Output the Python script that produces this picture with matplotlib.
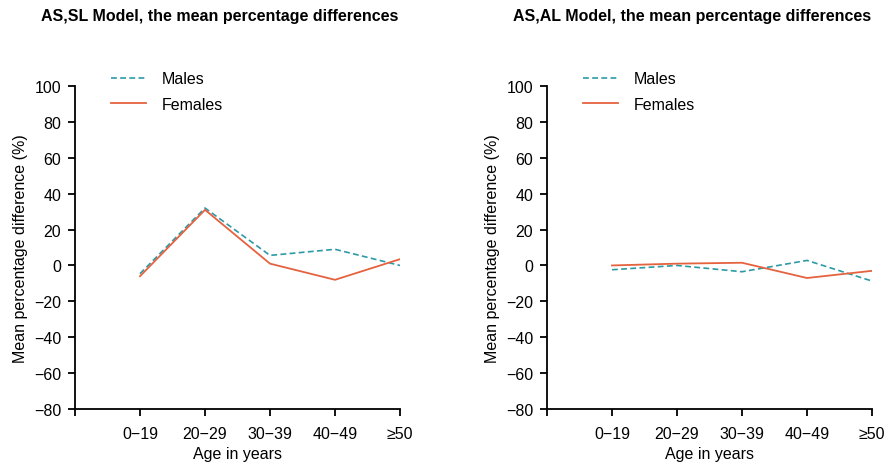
import matplotlib
matplotlib.use("Agg")
import matplotlib.pyplot as plt

plt.rcParams['font.family'] = ['Liberation Sans', 'DejaVu Sans']

age_groups = ["0\u221219", "20\u221229", "30\u221239", "40\u221249", "\u226550"]

# AS,SL model
sl_males = [-4.6, 32, 5.6, 9, 0]
sl_females = [-6, 31, 1, -8, 3.5]

# AS,AL model
al_males = [-2.4, 0, -3.5, 2.8, -8.7]
al_females = [0, 1, 1.5, -7, -3]

titles = ["AS,SL Model, the mean percentage differences",
          "AS,AL Model, the mean percentage differences"]

male_color = "#2b9aa6"
female_color = "#e5623f"

fig = plt.figure(figsize=(8.86, 4.64), dpi=100)
ax1 = fig.add_axes([75/886, 54/464, 325/886, 323/464])
ax2 = fig.add_axes([547/886, 54/464, 325/886, 323/464])

x = [1, 2, 3, 4, 5]
for ax, males, females in [(ax1, sl_males, sl_females), (ax2, al_males, al_females)]:
    ax.plot(x, males, color=male_color, linestyle=(0, (3.5, 2)), linewidth=1.2, label="Males")
    ax.plot(x, females, color=female_color, linewidth=1.3, label="Females")
    ax.set_xlim(0, 5)
    ax.set_ylim(-80, 100)
    ax.set_xticks([0, 1, 2, 3, 4, 5])
    ax.set_xticklabels([""] + age_groups)
    ax.set_yticks(range(-80, 101, 20))
    ax.set_yticklabels([str(v).replace("-", "\u2212") for v in range(-80, 101, 20)])
    ax.spines['top'].set_visible(False)
    ax.spines['right'].set_visible(False)
    ax.spines['left'].set_linewidth(1.3)
    ax.spines['bottom'].set_linewidth(1.3)
    ax.tick_params(direction='out', length=5, width=1.3, labelsize=11.5)
    ax.tick_params(axis='x', pad=7)
    ax.tick_params(axis='y', pad=5)
    ax.set_xlabel("Age in years", fontsize=11.5, labelpad=4)
    ax.set_ylabel("Mean percentage difference (%)", fontsize=11.5, labelpad=4)
    ax.legend(loc='upper left', bbox_to_anchor=(0.065, 1.09), frameon=False,
              fontsize=11.5, handlelength=2.2, handletextpad=1.0, labelspacing=0.65)

fig.text(220/886, 1 - 17/464, titles[0], ha='center', va='center', fontsize=11.5, fontweight='bold')
fig.text(692/886, 1 - 17/464, titles[1], ha='center', va='center', fontsize=11.5, fontweight='bold')

fig.savefig("out.png", dpi=100)
